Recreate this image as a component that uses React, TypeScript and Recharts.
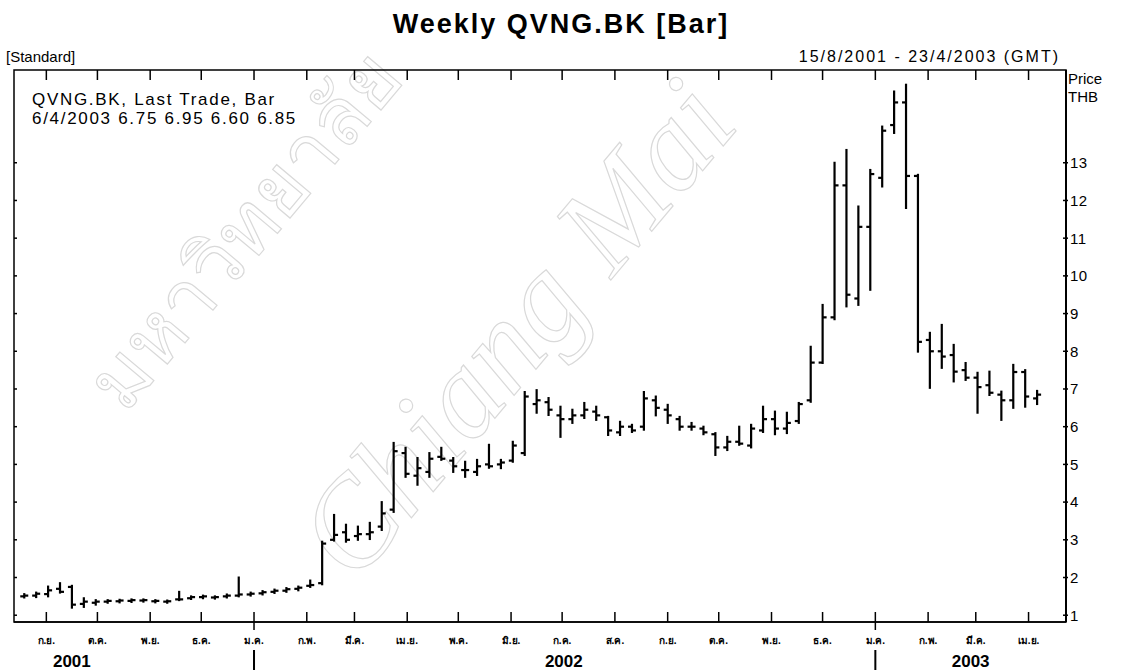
import { Bar, ComposedChart, ReferenceArea, XAxis, YAxis } from "recharts";

const FONT = "'Liberation Sans', Arial, 'Noto Sans', sans-serif";
const W = 1121;
const H = 671;
const PLOT_LEFT = 14;
const PLOT_TOP = 70;
const PLOT_RIGHT = 1066;
const PLOT_BOTTOM = 622;

const DAY = 24 * 60 * 60 * 1000;
const FIRST_WEEK = Date.UTC(2001, 7, 19);
const X_MIN = Date.UTC(2001, 7, 13);
const X_MAX = Date.UTC(2003, 3, 23);
const Y_MIN = 0.82;
const Y_MAX = 15.46;

// weekly bars, 19/8/2001 .. 6/4/2003
const opens = [
  1.5, 1.52, 1.56, 1.7, 1.75, 1.3, 1.33, 1.36, 1.37, 1.38, 1.39, 1.37, 1.36, 1.42, 1.45, 1.48, 1.47, 1.5, 1.52, 1.55,
  1.58, 1.62, 1.65, 1.7, 1.78, 1.85, 3.0, 3.2, 3.1, 3.15, 3.35, 3.8, 5.3, 4.7, 4.8, 5.2, 5.1, 4.85, 4.8, 5.0,
  5.0, 5.1, 5.3, 6.6, 6.65, 6.3, 6.2, 6.3, 6.4, 6.25, 5.85, 6.0, 6.0, 6.7, 6.45, 6.2, 6.0, 5.95, 5.8, 5.45,
  5.6, 5.5, 5.9, 6.2, 5.95, 6.15, 6.7, 7.7, 8.9, 12.4, 9.4, 11.3, 12.6, 14.0, 14.6, 12.65, 8.3, 8.0, 7.9, 7.5,
  7.3, 7.1, 6.85, 6.7, 7.45, 6.75,
];
const highs = [
  1.56, 1.6, 1.76, 1.85, 1.78, 1.45, 1.4, 1.4, 1.41, 1.42, 1.42, 1.4, 1.39, 1.62, 1.5, 1.52, 1.5, 1.55, 2.0, 1.6,
  1.64, 1.68, 1.72, 1.76, 1.92, 2.95, 3.66, 3.4, 3.35, 3.45, 4.0, 5.57, 5.44, 5.17, 5.3, 5.44, 5.17, 5.07, 5.12, 5.52,
  5.12, 5.6, 6.92, 6.97, 6.76, 6.53, 6.45, 6.63, 6.53, 6.26, 6.13, 6.05, 6.92, 6.8, 6.58, 6.26, 6.1, 6.0, 5.83, 5.73,
  6.0, 6.05, 6.53, 6.4, 6.37, 6.63, 8.12, 9.23, 13.0, 13.34, 11.84, 12.81, 13.96, 14.89, 15.07, 12.68, 8.49, 8.7, 8.17, 7.69,
  7.43, 7.46, 6.93, 7.64, 7.5, 6.95,
];
const lows = [
  1.47, 1.48, 1.5, 1.6, 1.2, 1.22, 1.28, 1.33, 1.34, 1.35, 1.36, 1.34, 1.33, 1.4, 1.43, 1.45, 1.44, 1.47, 1.5, 1.52,
  1.55, 1.59, 1.62, 1.66, 1.75, 1.82, 2.98, 2.95, 3.0, 3.02, 3.26, 3.74, 4.67, 4.46, 4.67, 5.12, 4.8, 4.67, 4.72, 4.91,
  4.9, 5.07, 5.25, 6.37, 6.31, 5.73, 6.1, 6.23, 6.18, 5.78, 5.78, 5.86, 5.92, 6.3, 6.1, 5.92, 5.92, 5.8, 5.25, 5.38,
  5.52, 5.45, 5.86, 5.8, 5.83, 6.1, 6.66, 7.69, 8.85, 9.19, 9.23, 9.63, 12.37, 13.79, 11.8, 7.99, 7.03, 7.56, 7.2, 7.24,
  6.37, 6.84, 6.18, 6.5, 6.53, 6.6,
];
const closes = [
  1.52, 1.57, 1.66, 1.62, 1.28, 1.36, 1.36, 1.38, 1.39, 1.4, 1.4, 1.38, 1.37, 1.42, 1.48, 1.5, 1.48, 1.52, 1.55, 1.57,
  1.61, 1.65, 1.69, 1.73, 1.8, 2.9, 3.13, 3.0, 3.15, 3.2, 3.7, 5.35, 4.75, 4.9, 5.15, 5.15, 4.95, 4.85, 4.95, 4.95,
  5.05, 5.5, 6.8, 6.7, 6.45, 6.2, 6.3, 6.45, 6.3, 5.9, 6.0, 5.9, 6.75, 6.5, 6.3, 6.0, 6.0, 5.85, 5.45, 5.6,
  5.55, 5.95, 6.2, 5.95, 6.1, 6.6, 7.7, 8.9, 12.4, 9.5, 11.3, 12.7, 13.85, 14.6, 12.65, 8.25, 8.0, 7.86, 7.46, 7.3,
  7.05, 6.9, 6.7, 7.45, 6.8, 6.85,
];

const monthStarts = [
  Date.UTC(2001, 8, 1), Date.UTC(2001, 9, 1), Date.UTC(2001, 10, 1), Date.UTC(2001, 11, 1),
  Date.UTC(2002, 0, 1), Date.UTC(2002, 1, 1), Date.UTC(2002, 2, 1), Date.UTC(2002, 3, 1),
  Date.UTC(2002, 4, 1), Date.UTC(2002, 5, 1), Date.UTC(2002, 6, 1), Date.UTC(2002, 7, 1),
  Date.UTC(2002, 8, 1), Date.UTC(2002, 9, 1), Date.UTC(2002, 10, 1), Date.UTC(2002, 11, 1),
  Date.UTC(2003, 0, 1), Date.UTC(2003, 1, 1), Date.UTC(2003, 2, 1), Date.UTC(2003, 3, 1),
];
const monthLabels = [
  "ก.ย.", "ต.ค.", "พ.ย.", "ธ.ค.", "ม.ค.", "ก.พ.", "มี.ค.", "เม.ย.", "พ.ค.", "มิ.ย.",
  "ก.ค.", "ส.ค.", "ก.ย.", "ต.ค.", "พ.ย.", "ธ.ค.", "ม.ค.", "ก.พ.", "มี.ค.", "เม.ย.",
];
const yearAnchors = [Date.UTC(2001, 8, 16), Date.UTC(2002, 6, 2), Date.UTC(2003, 1, 26)];
const yearLabels = ["2001", "2002", "2003"];
const priceTicks = [1, 2, 3, 4, 5, 6, 7, 8, 9, 10, 11, 12, 13];

const rows = opens.map((o, i) => ({
  t: FIRST_WEEK + i * 7 * DAY,
  open: o,
  high: highs[i],
  low: lows[i],
  close: closes[i],
}));

function OhlcShape(props: any) {
  const { x, y, width, height, payload } = props;
  if (x == null || y == null) return null;
  const cx = x + width / 2;
  const top = Math.min(y, y + height);
  const bottom = Math.max(y, y + height);
  const span = payload.high - payload.low;
  const yOf = (v: number) => (span > 0 ? top + ((payload.high - v) / span) * (bottom - top) : top);
  return (
    <g stroke="#000" strokeWidth={2.2}>
      <line x1={cx} x2={cx} y1={top - 1} y2={bottom + 1} />
      <line x1={cx - 4} x2={cx} y1={yOf(payload.open)} y2={yOf(payload.open)} />
      <line x1={cx} x2={cx + 4} y1={yOf(payload.close)} y2={yOf(payload.close)} />
    </g>
  );
}

function TimeTick(props: any) {
  const { x, y, payload } = props;
  const value = payload.value;
  const yi = yearAnchors.indexOf(value);
  if (yi >= 0) {
    return (
      <text x={x} y={y + 45} textAnchor="middle" fontSize={17} fontWeight="bold" fontFamily={FONT} fill="#000">
        {yearLabels[yi]}
      </text>
    );
  }
  const label = monthLabels[monthStarts.indexOf(value)];
  const isJan = label === "ม.ค.";
  return (
    <g>
      <line x1={x} x2={x} y1={PLOT_TOP} y2={PLOT_TOP + 10} stroke="#000" strokeWidth={1.5} />
      <line x1={x} x2={x} y1={y - 10} y2={isJan ? y + 8 : y} stroke="#000" strokeWidth={1.5} />
      {isJan && <line x1={x} x2={x} y1={y + 28} y2={y + 48} stroke="#000" strokeWidth={2} />}
      <text x={x} y={y + 22} textAnchor="middle" fontSize={10} fontWeight="bold" fontFamily={FONT} fill="#000">
        {label}
      </text>
    </g>
  );
}

function PriceTick(props: any) {
  const { x, y, payload } = props;
  return (
    <g>
      <line x1={PLOT_LEFT} x2={PLOT_LEFT + 3} y1={y} y2={y} stroke="#000" strokeWidth={1.5} />
      <line x1={PLOT_RIGHT - 3} x2={PLOT_RIGHT + 2} y1={y} y2={y} stroke="#000" strokeWidth={1.5} />
      <text x={x} y={y} dy="0.36em" fontSize={15} fontFamily={FONT} fill="#000" letterSpacing={0.5}>
        {payload.value}
      </text>
    </g>
  );
}

export default function App() {
  return (
    <div style={{ position: "absolute", left: 0, top: 0, width: W, height: H, background: "#fff", fontFamily: FONT }}>
      <svg width={W} height={H} style={{ position: "absolute", left: 0, top: 0 }}>
        <g fill="none" stroke="#d9d9d9" strokeWidth={1.2}>
          <text x={355} y={585} fontSize={125} fontStyle="italic" fontFamily="'Liberation Serif', serif" transform="rotate(-50 355 585)">
            Chiang Mai
          </text>
          <text x={125} y={415} fontSize={80} fontFamily="'Liberation Serif', serif" transform="rotate(-50 125 415)">
            มหาวิทยาลัย
          </text>
        </g>
      </svg>
      <div style={{ position: "absolute", left: 0, top: 0 }}>
        <ComposedChart
          width={W}
          height={H}
          data={rows}
          margin={{ top: PLOT_TOP, right: 0, bottom: 0, left: PLOT_LEFT }}
        >
          <XAxis
            dataKey="t"
            type="number"
            scale="linear"
            domain={[X_MIN, X_MAX]}
            allowDataOverflow
            ticks={[...monthStarts, ...yearAnchors]}
            interval={0}
            height={H - PLOT_BOTTOM}
            tickSize={0}
            tickMargin={0}
            tickLine={false}
            axisLine={{ stroke: "#000", strokeWidth: 1.5 }}
            tick={<TimeTick />}
          />
          <YAxis
            yAxisId="price"
            orientation="right"
            type="number"
            domain={[Y_MIN, Y_MAX]}
            allowDataOverflow
            ticks={priceTicks}
            interval={0}
            width={W - PLOT_RIGHT}
            tickSize={0}
            tickMargin={4}
            tickLine={false}
            axisLine={{ stroke: "#000", strokeWidth: 2 }}
            tick={<PriceTick />}
          />
          <ReferenceArea
            yAxisId="price"
            x1={X_MIN}
            x2={X_MAX}
            y1={Y_MIN}
            y2={Y_MAX}
            fill="none"
            stroke="#000"
            strokeWidth={1.5}
          />
          <Bar
            yAxisId="price"
            dataKey={(d: any) => [d.low, d.high]}
            barSize={6}
            shape={<OhlcShape />}
            isAnimationActive={false}
          />
        </ComposedChart>
      </div>
      <svg width={W} height={H} style={{ position: "absolute", left: 0, top: 0, pointerEvents: "none" }}>
        <g fontFamily={FONT} fill="#000">
          <text x={561} y={33} textAnchor="middle" fontSize={27} fontWeight="bold" letterSpacing={2}>
            Weekly QVNG.BK [Bar]
          </text>
          <text x={6} y={62} fontSize={15}>
            [Standard]
          </text>
          <text x={1060} y={62} textAnchor="end" fontSize={16} letterSpacing={2}>
            15/8/2001 - 23/4/2003 (GMT)
          </text>
          <text x={32} y={105} fontSize={17} letterSpacing={1.7}>
            QVNG.BK, Last Trade, Bar
          </text>
          <text x={32} y={124} fontSize={17} letterSpacing={1.7}>
            6/4/2003 6.75 6.95 6.60 6.85
          </text>
          <text x={1068} y={84} fontSize={15}>
            Price
          </text>
          <text x={1068} y={102} fontSize={15}>
            THB
          </text>
        </g>
      </svg>
    </div>
  );
}
